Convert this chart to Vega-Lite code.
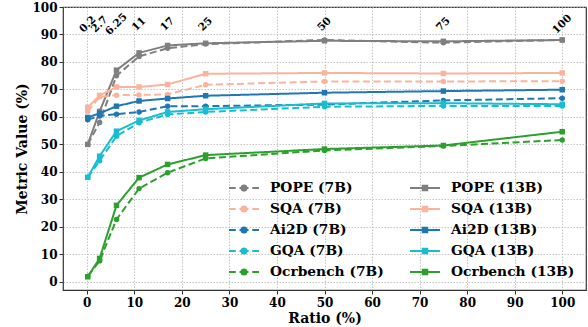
{
  "$schema": "https://vega.github.io/schema/vega-lite/v6.json",
  "width": 523,
  "height": 283,
  "autosize": {"type": "none"},
  "padding": {"left": 63, "top": 7, "right": 2, "bottom": 37},
  "config": {
    "font": "DejaVu Serif",
    "view": {"stroke": "#333333", "strokeWidth": 1.2},
    "axis": {
      "domain": false,
      "grid": true,
      "gridColor": "#b5b5b5",
      "gridDash": [1.5, 1.5],
      "gridWidth": 0.8,
      "tickColor": "#333333",
      "tickSize": 4,
      "labelFont": "DejaVu Serif",
      "labelFontWeight": "bold",
      "labelFontSize": 12,
      "labelColor": "#000000",
      "titleFont": "DejaVu Serif",
      "titleFontWeight": "bold",
      "titleFontSize": 14,
      "titleColor": "#000000"
    },
    "axisX": {"labelPadding": 3, "titlePadding": 3},
    "axisY": {"titlePadding": 2}
  },
  "datasets": {
    "series": [
      {"r": 0.2, "v": 50, "s": "POPE (7B)", "m": "7B"},
      {"r": 2.7, "v": 58, "s": "POPE (7B)", "m": "7B"},
      {"r": 6.25, "v": 75, "s": "POPE (7B)", "m": "7B"},
      {"r": 11, "v": 82, "s": "POPE (7B)", "m": "7B"},
      {"r": 17, "v": 85, "s": "POPE (7B)", "m": "7B"},
      {"r": 25, "v": 86.5, "s": "POPE (7B)", "m": "7B"},
      {"r": 50, "v": 88, "s": "POPE (7B)", "m": "7B"},
      {"r": 75, "v": 87, "s": "POPE (7B)", "m": "7B"},
      {"r": 100, "v": 88, "s": "POPE (7B)", "m": "7B"},
      {"r": 0.2, "v": 50, "s": "POPE (13B)", "m": "13B"},
      {"r": 2.7, "v": 62, "s": "POPE (13B)", "m": "13B"},
      {"r": 6.25, "v": 77, "s": "POPE (13B)", "m": "13B"},
      {"r": 11, "v": 83.3, "s": "POPE (13B)", "m": "13B"},
      {"r": 17, "v": 86, "s": "POPE (13B)", "m": "13B"},
      {"r": 25, "v": 86.8, "s": "POPE (13B)", "m": "13B"},
      {"r": 50, "v": 87.7, "s": "POPE (13B)", "m": "13B"},
      {"r": 75, "v": 87.5, "s": "POPE (13B)", "m": "13B"},
      {"r": 100, "v": 88, "s": "POPE (13B)", "m": "13B"},
      {"r": 0.2, "v": 62, "s": "SQA (7B)", "m": "7B"},
      {"r": 2.7, "v": 67.3, "s": "SQA (7B)", "m": "7B"},
      {"r": 6.25, "v": 67.9, "s": "SQA (7B)", "m": "7B"},
      {"r": 11, "v": 68, "s": "SQA (7B)", "m": "7B"},
      {"r": 17, "v": 68.2, "s": "SQA (7B)", "m": "7B"},
      {"r": 25, "v": 71.7, "s": "SQA (7B)", "m": "7B"},
      {"r": 50, "v": 72.9, "s": "SQA (7B)", "m": "7B"},
      {"r": 75, "v": 72.9, "s": "SQA (7B)", "m": "7B"},
      {"r": 100, "v": 73, "s": "SQA (7B)", "m": "7B"},
      {"r": 0.2, "v": 63.5, "s": "SQA (13B)", "m": "13B"},
      {"r": 2.7, "v": 67.8, "s": "SQA (13B)", "m": "13B"},
      {"r": 6.25, "v": 70.9, "s": "SQA (13B)", "m": "13B"},
      {"r": 11, "v": 70.9, "s": "SQA (13B)", "m": "13B"},
      {"r": 17, "v": 71.8, "s": "SQA (13B)", "m": "13B"},
      {"r": 25, "v": 75.7, "s": "SQA (13B)", "m": "13B"},
      {"r": 50, "v": 76, "s": "SQA (13B)", "m": "13B"},
      {"r": 75, "v": 75.8, "s": "SQA (13B)", "m": "13B"},
      {"r": 100, "v": 76, "s": "SQA (13B)", "m": "13B"},
      {"r": 0.2, "v": 59, "s": "Ai2D (7B)", "m": "7B"},
      {"r": 2.7, "v": 60.3, "s": "Ai2D (7B)", "m": "7B"},
      {"r": 6.25, "v": 61, "s": "Ai2D (7B)", "m": "7B"},
      {"r": 11, "v": 61.8, "s": "Ai2D (7B)", "m": "7B"},
      {"r": 17, "v": 63.9, "s": "Ai2D (7B)", "m": "7B"},
      {"r": 25, "v": 63.9, "s": "Ai2D (7B)", "m": "7B"},
      {"r": 50, "v": 64.5, "s": "Ai2D (7B)", "m": "7B"},
      {"r": 75, "v": 66, "s": "Ai2D (7B)", "m": "7B"},
      {"r": 100, "v": 66.8, "s": "Ai2D (7B)", "m": "7B"},
      {"r": 0.2, "v": 59.8, "s": "Ai2D (13B)", "m": "13B"},
      {"r": 2.7, "v": 61.3, "s": "Ai2D (13B)", "m": "13B"},
      {"r": 6.25, "v": 63.9, "s": "Ai2D (13B)", "m": "13B"},
      {"r": 11, "v": 65.8, "s": "Ai2D (13B)", "m": "13B"},
      {"r": 17, "v": 66.7, "s": "Ai2D (13B)", "m": "13B"},
      {"r": 25, "v": 67.7, "s": "Ai2D (13B)", "m": "13B"},
      {"r": 50, "v": 68.8, "s": "Ai2D (13B)", "m": "13B"},
      {"r": 75, "v": 69.4, "s": "Ai2D (13B)", "m": "13B"},
      {"r": 100, "v": 69.9, "s": "Ai2D (13B)", "m": "13B"},
      {"r": 0.2, "v": 38, "s": "GQA (7B)", "m": "7B"},
      {"r": 2.7, "v": 44, "s": "GQA (7B)", "m": "7B"},
      {"r": 6.25, "v": 53, "s": "GQA (7B)", "m": "7B"},
      {"r": 11, "v": 57.9, "s": "GQA (7B)", "m": "7B"},
      {"r": 17, "v": 60.9, "s": "GQA (7B)", "m": "7B"},
      {"r": 25, "v": 61.8, "s": "GQA (7B)", "m": "7B"},
      {"r": 50, "v": 63.7, "s": "GQA (7B)", "m": "7B"},
      {"r": 75, "v": 64, "s": "GQA (7B)", "m": "7B"},
      {"r": 100, "v": 64, "s": "GQA (7B)", "m": "7B"},
      {"r": 0.2, "v": 38, "s": "GQA (13B)", "m": "13B"},
      {"r": 2.7, "v": 45.7, "s": "GQA (13B)", "m": "13B"},
      {"r": 6.25, "v": 54.8, "s": "GQA (13B)", "m": "13B"},
      {"r": 11, "v": 58.7, "s": "GQA (13B)", "m": "13B"},
      {"r": 17, "v": 61.8, "s": "GQA (13B)", "m": "13B"},
      {"r": 25, "v": 62.8, "s": "GQA (13B)", "m": "13B"},
      {"r": 50, "v": 64.9, "s": "GQA (13B)", "m": "13B"},
      {"r": 75, "v": 65, "s": "GQA (13B)", "m": "13B"},
      {"r": 100, "v": 64.6, "s": "GQA (13B)", "m": "13B"},
      {"r": 0.2, "v": 2, "s": "Ocrbench (7B)", "m": "7B"},
      {"r": 2.7, "v": 7.6, "s": "Ocrbench (7B)", "m": "7B"},
      {"r": 6.25, "v": 22.7, "s": "Ocrbench (7B)", "m": "7B"},
      {"r": 11, "v": 33.9, "s": "Ocrbench (7B)", "m": "7B"},
      {"r": 17, "v": 39.7, "s": "Ocrbench (7B)", "m": "7B"},
      {"r": 25, "v": 44.9, "s": "Ocrbench (7B)", "m": "7B"},
      {"r": 50, "v": 47.8, "s": "Ocrbench (7B)", "m": "7B"},
      {"r": 75, "v": 49.4, "s": "Ocrbench (7B)", "m": "7B"},
      {"r": 100, "v": 51.6, "s": "Ocrbench (7B)", "m": "7B"},
      {"r": 0.2, "v": 1.8, "s": "Ocrbench (13B)", "m": "13B"},
      {"r": 2.7, "v": 8.5, "s": "Ocrbench (13B)", "m": "13B"},
      {"r": 6.25, "v": 27.8, "s": "Ocrbench (13B)", "m": "13B"},
      {"r": 11, "v": 37.9, "s": "Ocrbench (13B)", "m": "13B"},
      {"r": 17, "v": 42.7, "s": "Ocrbench (13B)", "m": "13B"},
      {"r": 25, "v": 46.1, "s": "Ocrbench (13B)", "m": "13B"},
      {"r": 50, "v": 48.3, "s": "Ocrbench (13B)", "m": "13B"},
      {"r": 75, "v": 49.6, "s": "Ocrbench (13B)", "m": "13B"},
      {"r": 100, "v": 54.6, "s": "Ocrbench (13B)", "m": "13B"}
    ],
    "ann": [
      {"r": 0.2, "lab": "0.2"},
      {"r": 2.7, "lab": "2.7"},
      {"r": 6.25, "lab": "6.25"},
      {"r": 11, "lab": "11"},
      {"r": 17, "lab": "17"},
      {"r": 25, "lab": "25"},
      {"r": 50, "lab": "50"},
      {"r": 75, "lab": "75"},
      {"r": 100, "lab": "100"}
    ]
  },
  "layer": [
    {
      "data": {"name": "series"},
      "mark": {"type": "line", "strokeWidth": 2},
      "encoding": {
        "x": {
          "field": "r",
          "type": "quantitative",
          "scale": {"domain": [-5, 105], "nice": false, "zero": false},
          "axis": {"values": [0, 10, 20, 30, 40, 50, 60, 70, 80, 90, 100], "title": "Ratio (%)"}
        },
        "y": {
          "field": "v",
          "type": "quantitative",
          "scale": {"domain": [-3, 100], "nice": false, "zero": false},
          "axis": {"values": [0, 10, 20, 30, 40, 50, 60, 70, 80, 90, 100], "title": "Metric Value (%)"}
        },
        "color": {"field": "s", "type": "nominal"},
        "strokeDash": {
          "field": "m",
          "type": "nominal",
          "scale": {"domain": ["7B", "13B"], "range": [[7, 3.5], [1, 0]]},
          "legend": null
        }
      }
    },
    {
      "data": {"name": "series"},
      "transform": [{"filter": "datum.m == '7B'"}],
      "mark": {"type": "point", "shape": "circle", "filled": true, "opacity": 1, "size": 30},
      "encoding": {
        "x": {"field": "r", "type": "quantitative", "axis": {"values": [0, 10, 20, 30, 40, 50, 60, 70, 80, 90, 100], "title": "Ratio (%)"}},
        "y": {"field": "v", "type": "quantitative", "axis": {"values": [0, 10, 20, 30, 40, 50, 60, 70, 80, 90, 100], "title": "Metric Value (%)"}},
        "color": {"field": "s", "type": "nominal"}
      }
    },
    {
      "data": {"name": "series"},
      "transform": [{"filter": "datum.m == '13B'"}],
      "mark": {"type": "point", "shape": "square", "filled": true, "opacity": 1, "size": 30},
      "encoding": {
        "x": {"field": "r", "type": "quantitative", "axis": {"values": [0, 10, 20, 30, 40, 50, 60, 70, 80, 90, 100], "title": "Ratio (%)"}},
        "y": {"field": "v", "type": "quantitative", "axis": {"values": [0, 10, 20, 30, 40, 50, 60, 70, 80, 90, 100], "title": "Metric Value (%)"}},
        "color": {"field": "s", "type": "nominal"}
      }
    },
    {
      "data": {"name": "series"},
      "mark": {"type": "point", "filled": true, "opacity": 0, "size": 10},
      "encoding": {
        "x": {"field": "r", "type": "quantitative", "axis": {"values": [0, 10, 20, 30, 40, 50, 60, 70, 80, 90, 100], "title": "Ratio (%)"}},
        "y": {"field": "v", "type": "quantitative", "axis": {"values": [0, 10, 20, 30, 40, 50, 60, 70, 80, 90, 100], "title": "Metric Value (%)"}},
        "color": {
          "field": "s",
          "type": "nominal",
          "scale": {
            "domain": ["POPE (7B)", "SQA (7B)", "Ai2D (7B)", "GQA (7B)", "Ocrbench (7B)", "POPE (13B)", "SQA (13B)", "Ai2D (13B)", "GQA (13B)", "Ocrbench (13B)"],
            "range": ["#7f7f7f", "#fbb49b", "#1f77b4", "#17becf", "#2ca02c", "#7f7f7f", "#fbb49b", "#1f77b4", "#17becf", "#2ca02c"]
          },
          "legend": {
            "title": null,
            "orient": "bottom-right",
            "offset": 11,
            "columns": 2,
            "columnPadding": 22,
            "rowPadding": 3,
            "symbolSize": 400,
            "symbolStrokeWidth": 2,
            "labelFont": "DejaVu Serif",
            "labelFontWeight": "bold",
            "labelFontSize": 13.8,
            "labelColor": "#000000",
            "labelOffset": 15,
            "encode": {
              "symbols": {
                "update": {
                  "opacity": {"value": 1},
                  "fillOpacity": {"value": 1},
                  "strokeOpacity": {"value": 1},
                  "fill": {"scale": "color", "field": "value"},
                  "stroke": {"scale": "color", "field": "value"},
                  "strokeWidth": {"value": 2}
                }
              }
            }
          }
        },
        "shape": {
          "field": "s",
          "type": "nominal",
          "scale": {
            "domain": ["POPE (7B)", "SQA (7B)", "Ai2D (7B)", "GQA (7B)", "Ocrbench (7B)", "POPE (13B)", "SQA (13B)", "Ai2D (13B)", "GQA (13B)", "Ocrbench (13B)"],
            "range": [
              "M-1.5,0H-0.825M-0.45,0H-0.3M0.3,0H0.45M0.825,0H1.5M0.255,0A0.255,0.255 0 1,1 -0.255,0A0.255,0.255 0 1,1 0.255,0Z",
              "M-1.5,0H-0.825M-0.45,0H-0.3M0.3,0H0.45M0.825,0H1.5M0.255,0A0.255,0.255 0 1,1 -0.255,0A0.255,0.255 0 1,1 0.255,0Z",
              "M-1.5,0H-0.825M-0.45,0H-0.3M0.3,0H0.45M0.825,0H1.5M0.255,0A0.255,0.255 0 1,1 -0.255,0A0.255,0.255 0 1,1 0.255,0Z",
              "M-1.5,0H-0.825M-0.45,0H-0.3M0.3,0H0.45M0.825,0H1.5M0.255,0A0.255,0.255 0 1,1 -0.255,0A0.255,0.255 0 1,1 0.255,0Z",
              "M-1.5,0H-0.825M-0.45,0H-0.3M0.3,0H0.45M0.825,0H1.5M0.255,0A0.255,0.255 0 1,1 -0.255,0A0.255,0.255 0 1,1 0.255,0Z",
              "M-1.5,0H1.5M-0.225,-0.225H0.225V0.225H-0.225Z",
              "M-1.5,0H1.5M-0.225,-0.225H0.225V0.225H-0.225Z",
              "M-1.5,0H1.5M-0.225,-0.225H0.225V0.225H-0.225Z",
              "M-1.5,0H1.5M-0.225,-0.225H0.225V0.225H-0.225Z",
              "M-1.5,0H1.5M-0.225,-0.225H0.225V0.225H-0.225Z"
            ]
          }
        }
      }
    },
    {
      "data": {"name": "ann"},
      "mark": {"type": "text", "angle": -45, "align": "center", "baseline": "middle", "font": "DejaVu Serif", "fontWeight": "bold", "fontSize": 10.5, "fill": "#000000"},
      "encoding": {
        "x": {"field": "r", "type": "quantitative", "axis": {"values": [0, 10, 20, 30, 40, 50, 60, 70, 80, 90, 100], "title": "Ratio (%)"}},
        "y": {"datum": 93.7, "type": "quantitative", "axis": {"values": [0, 10, 20, 30, 40, 50, 60, 70, 80, 90, 100], "title": "Metric Value (%)"}},
        "text": {"field": "lab", "type": "nominal"}
      }
    }
  ]
}
